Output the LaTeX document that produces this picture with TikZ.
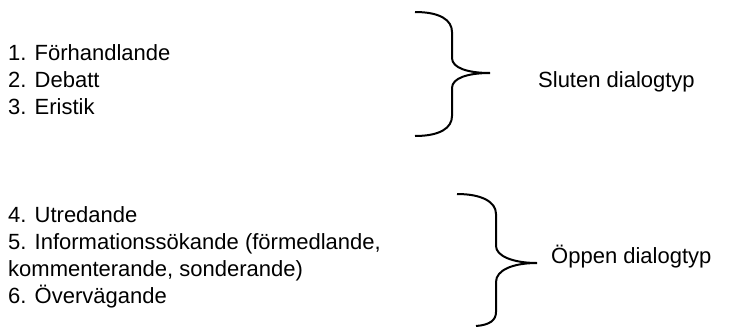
\documentclass[tikz,border=0pt]{standalone}
\usepackage{fontspec}
\setmainfont{Liberation Sans}
\begin{document}
\begin{tikzpicture}[x=1pt,y=-1pt,
  txt/.style={anchor=base west,inner sep=0pt,font=\fontsize{22}{27}\selectfont},
  bracelin/.style={line width=2pt,line cap=butt}]
\useasboundingbox (0,0) rectangle (752,327);
% left lists
\node[txt] (l1) at (8,60) {1. Förhandlande};
\node[txt] (l2) at (8,87) {2. Debatt};
\node[txt] (l3) at (8,114) {3. Eristik};
\node[txt] (l4) at (8,222) {4. Utredande};
\node[txt] (l5) at (8,249) {5. Informationssökande (förmedlande,};
\node[txt] (l6) at (8,276) {kommenterande, sonderande)};
\node[txt] (l7) at (8,303) {6. Övervägande};
% labels
\node[txt] (s) at (538,87) {Sluten dialogtyp};
\node[txt] (o) at (551,263) {Öppen dialogtyp};
% brace 1
\draw[bracelin] (415,12) .. controls (440,12) and (452,20) .. (452,32)
  -- (452,58) .. controls (452,68) and (468,73) .. (490,73)
  .. controls (468,73) and (452,78) .. (452,88)
  -- (452,116) .. controls (452,128) and (440,136) .. (415,136);
% brace 2
\draw[bracelin] (457,194) .. controls (482,194) and (496,202) .. (496,214)
  -- (496,246) .. controls (496,256) and (513,263) .. (537,263)
  .. controls (513,263) and (496,270) .. (496,282)
  -- (496,312) .. controls (496,320) and (490,325) .. (476,326);
\end{tikzpicture}
\end{document}
